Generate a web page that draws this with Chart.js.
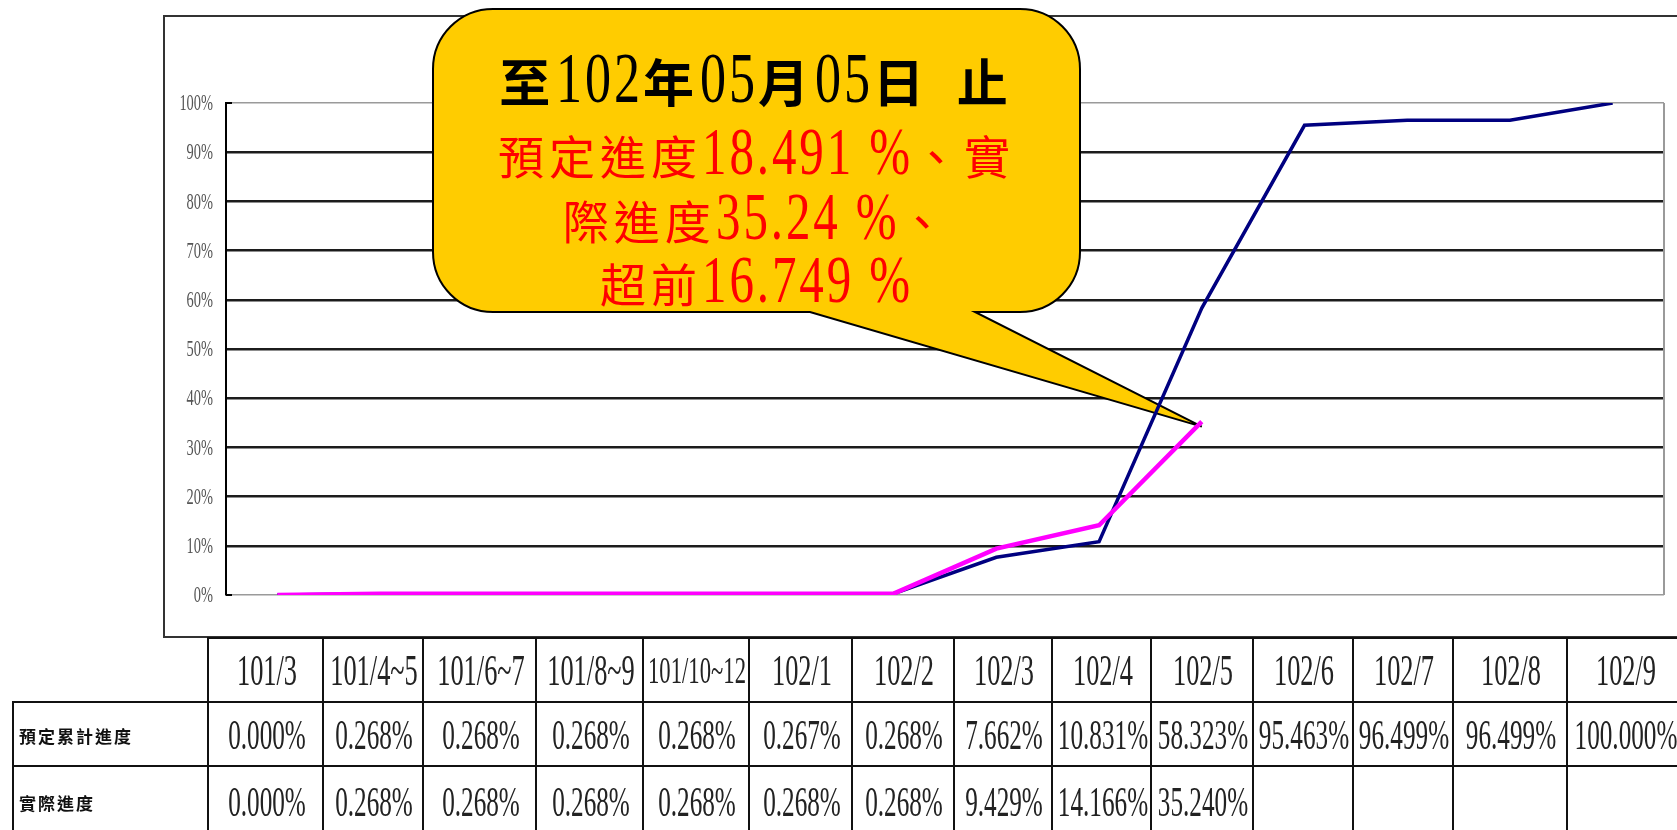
<!DOCTYPE html>
<html>
<head>
<meta charset="utf-8">
<script src="https://cdn.jsdelivr.net/npm/chart.js@4.4.0/dist/chart.umd.min.js"></script>
<style>
html, body { margin: 0; padding: 0; background: #fff; }
body { width: 1677px; height: 830px; position: relative; overflow: hidden;
       font-family: "Liberation Serif", "Noto Sans CJK TC", serif; }
#frame { position: absolute; left: 163px; top: 15px; width: 1600px; height: 623px;
         border: 2px solid #333; border-right: none; box-sizing: border-box; }
#progressChart { position: absolute; left: 0; top: 0; }
#callout { position: absolute; left: 433px; top: 9px; width: 647px; height: 303px; }
#callout .line { position: absolute; left: 0; width: 100%; height: 60px; line-height: 60px;
                 text-align: center; white-space: nowrap; }
#callout .title { font-size: 51px; font-weight: bold; color: #000; word-spacing: 8px; letter-spacing: 6px; }
#callout .red { font-size: 46px; color: #f00; letter-spacing: 5px; }
.num { display: inline-block; font-weight: normal; line-height: 1;
       transform: scaleX(0.72); transform-origin: 0 50%; letter-spacing: 4px; }
.title .num { font-size: 1.42em; }
.red .num { font-size: 1.48em; }
.cell { position: absolute; box-sizing: border-box; border-left: 2px solid #111; border-top: 2px solid #111; }
.cell span { position: absolute; left: 50%; top: 50%; white-space: nowrap; color: #222;
             transform: translate(-50%, -50%) scaleX(0.6); line-height: 1; }
.cell.head span { font-size: 44px; }
.cell.val span { font-size: 42px; }
.cell.label span { left: 5px; transform: translate(0, -50%); font-family: "Noto Sans CJK TC", sans-serif;
                   font-size: 17px; font-weight: bold; letter-spacing: 2px; color: #111; }
</style>
</head>
<body>
<div id="frame"></div>
<canvas id="progressChart" width="1677" height="830"></canvas>
<div id="callout"></div>
<div id="table"></div>
<script>
const categories = ['101/3', '101/4~5', '101/6~7', '101/8~9', '101/10~12', '102/1', '102/2',
                    '102/3', '102/4', '102/5', '102/6', '102/7', '102/8', '102/9'];
const plannedProgress = [0.000, 0.268, 0.268, 0.268, 0.268, 0.267, 0.268,
                         7.662, 10.831, 58.323, 95.463, 96.499, 96.499, 100.000];
const actualProgress = [0.000, 0.268, 0.268, 0.268, 0.268, 0.268, 0.268,
                        9.429, 14.166, 35.240, null, null, null, null];
const rowLabels = ['預定累計進度', '實際進度'];
const yMax = 100;
const yStep = 10;
const calloutTitle = '至102年05月05日 止';
const calloutLines = ['預定進度18.491 %、實', '際進度35.24 %、', '超前16.749 %'];

// layout of the table under the chart (left edges of the columns)
const colEdges = [12, 207, 322, 422, 535, 642, 748, 851, 953, 1051, 1150, 1252, 1352, 1452, 1566, 1682];
const rowTops = [637, 701, 765];
const rowHeights = [64, 64, 70];

// callout box geometry
const box = { left: 433, top: 9, right: 1080, bottom: 312, radius: 60, tailA: 975, tailB: 810 };

function drawCallout(ctx, tipX, tipY) {
    const b = box;
    const r = b.radius;
    ctx.save();
    ctx.beginPath();
    ctx.moveTo(b.left + r, b.top);
    ctx.lineTo(b.right - r, b.top);
    ctx.arcTo(b.right, b.top, b.right, b.top + r, r);
    ctx.lineTo(b.right, b.bottom - r);
    ctx.arcTo(b.right, b.bottom, b.right - r, b.bottom, r);
    ctx.lineTo(b.tailA, b.bottom);
    ctx.lineTo(tipX, tipY);
    ctx.lineTo(b.tailB, b.bottom);
    ctx.lineTo(b.left + r, b.bottom);
    ctx.arcTo(b.left, b.bottom, b.left, b.bottom - r, r);
    ctx.lineTo(b.left, b.top + r);
    ctx.arcTo(b.left, b.top, b.left + r, b.top, r);
    ctx.closePath();
    ctx.fillStyle = '#FFCC00';
    ctx.fill();
    ctx.lineWidth = 2;
    ctx.strokeStyle = '#000';
    ctx.stroke();
    ctx.restore();
}

const chartDecor = {
    id: 'chartDecor',
    beforeDatasetsDraw(chart) {
        const ctx = chart.ctx;
        const area = chart.chartArea;
        const y = chart.scales.y;
        const x = chart.scales.x;

        // gray right border of the plot
        ctx.save();
        ctx.strokeStyle = '#9a9a9a';
        ctx.lineWidth = 2;
        ctx.beginPath();
        ctx.moveTo(area.right, area.top);
        ctx.lineTo(area.right, area.bottom);
        ctx.stroke();

        // small black stubs at 0% and 100%
        ctx.strokeStyle = '#000';
        ctx.lineWidth = 2;
        [0, yMax].forEach(v => {
            const py = y.getPixelForValue(v);
            ctx.beginPath();
            ctx.moveTo(area.left, py);
            ctx.lineTo(area.left + 6, py);
            ctx.stroke();
        });

        // y tick labels, narrow like the original
        ctx.fillStyle = '#555';
        ctx.font = '24px "Liberation Serif", serif';
        ctx.textAlign = 'right';
        ctx.textBaseline = 'middle';
        y.ticks.forEach(t => {
            const py = y.getPixelForValue(t.value);
            ctx.save();
            ctx.translate(area.left - 13, py + 1);
            ctx.scale(0.6, 1);
            ctx.fillText(t.value + '%', 0, 0);
            ctx.restore();
        });
        ctx.restore();

        // callout pointing to the last actual value
        const last = actualProgress.filter(v => v !== null).length - 1;
        drawCallout(ctx, x.getPixelForValue(last), y.getPixelForValue(actualProgress[last]) + 5);
    }
};

const progressChart = new Chart(document.getElementById('progressChart'), {
    type: 'line',
    data: {
        labels: categories,
        datasets: [
            {
                label: '實際進度',
                data: actualProgress,
                borderColor: '#FF00FF',
                borderWidth: 4.5,
                pointRadius: 0,
                order: 0
            },
            {
                label: '預定累計進度',
                data: plannedProgress,
                borderColor: '#000080',
                borderWidth: 3.5,
                pointRadius: 0,
                order: 1
            }
        ]
    },
    options: {
        responsive: false,
        animation: false,
        devicePixelRatio: 1,
        layout: { padding: { left: 226, right: 13, top: 103, bottom: 235 } },
        plugins: {
            legend: { display: false },
            tooltip: { enabled: false }
        },
        scales: {
            x: { display: false, offset: true },
            y: {
                min: 0,
                max: yMax,
                ticks: { stepSize: yStep, display: false },
                grid: {
                    drawTicks: false,
                    color: c => (c.tick.value === 0 || c.tick.value === yMax) ? '#9a9a9a' : '#1c1c1c',
                    lineWidth: c => (c.tick.value === 0 || c.tick.value === yMax) ? 1.5 : 2.5
                },
                border: { display: true, color: '#000', width: 2 }
            }
        }
    },
    plugins: [chartDecor]
});

// callout text, digits drawn narrow and tall
function richText(el, text) {
    text.split(/([0-9.% ]+)/).forEach(part => {
        if (!part) return;
        const s = document.createElement('span');
        s.textContent = part;
        if (/[0-9%]/.test(part)) s.className = 'num';
        el.appendChild(s);
    });
}

const callout = document.getElementById('callout');
const lineTops = [33, 108, 173, 236];
[calloutTitle].concat(calloutLines).forEach((txt, i) => {
    const d = document.createElement('div');
    d.className = 'line ' + (i === 0 ? 'title' : 'red');
    d.style.top = lineTops[i] + 'px';
    richText(d, txt);
    callout.appendChild(d);
});
callout.querySelectorAll('.num').forEach(s => {
    s.style.marginRight = (-0.28 * s.offsetWidth) + 'px';
});

// data table under the chart
const table = document.getElementById('table');
function addCell(row, col, text, kind) {
    const c = document.createElement('div');
    c.className = 'cell ' + kind;
    c.style.left = colEdges[col] + 'px';
    c.style.top = rowTops[row] + 'px';
    c.style.width = (colEdges[col + 1] - colEdges[col] + 2) + 'px';
    c.style.height = (rowHeights[row] + 2) + 'px';
    const s = document.createElement('span');
    s.textContent = text;
    c.appendChild(s);
    table.appendChild(c);
    return c;
}
categories.forEach((cat, i) => {
    const c = addCell(0, i + 1, cat, 'head');
    const s = c.firstChild;
    const room = colEdges[i + 2] - colEdges[i + 1] - 8;
    const w = s.offsetWidth * 0.6;
    if (w > room) s.style.fontSize = (44 * room / w) + 'px';
});
const fmt = v => v === null ? '' : v.toFixed(3) + '%';
[plannedProgress, actualProgress].forEach((series, r) => {
    addCell(r + 1, 0, rowLabels[r], 'label');
    series.forEach((v, i) => addCell(r + 1, i + 1, fmt(v), 'val'));
});
</script>
</body>
</html>
